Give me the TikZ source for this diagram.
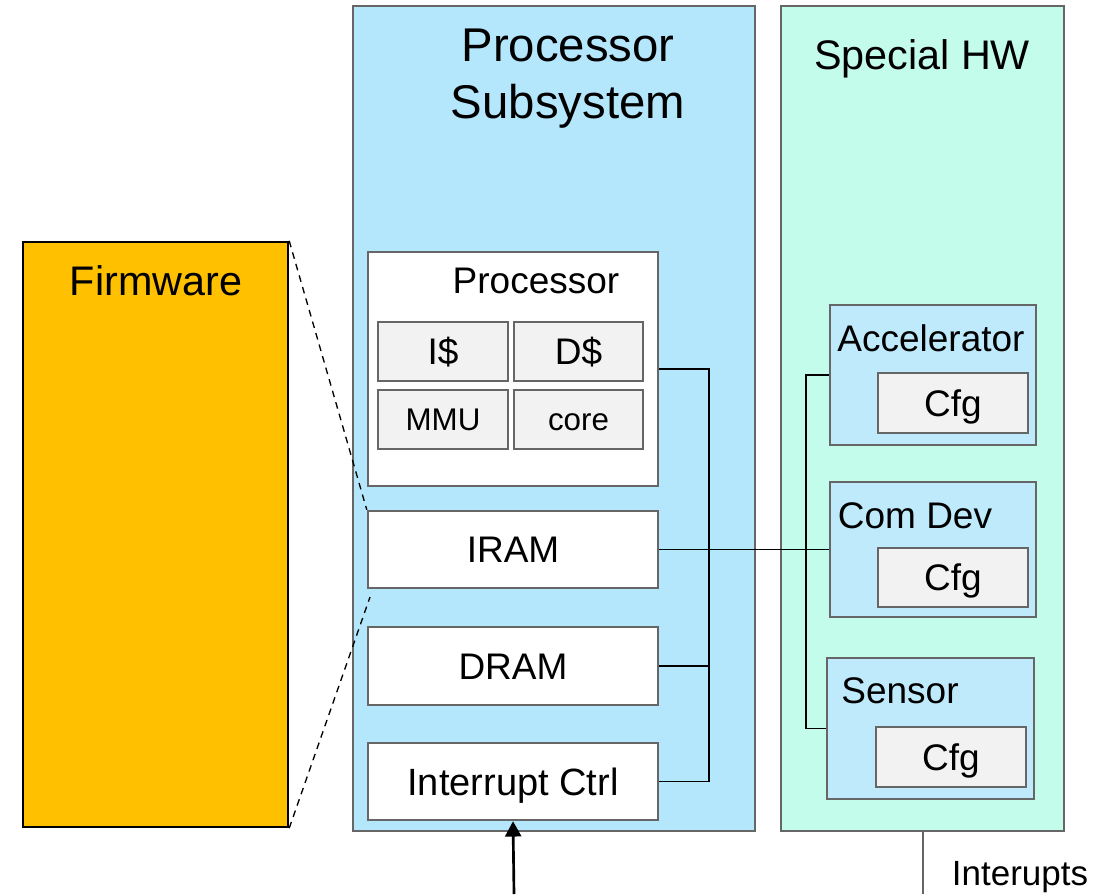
\documentclass[tikz,border=0pt]{standalone}
\usepackage{fontspec}
\setmainfont{Liberation Sans}
\usetikzlibrary{arrows.meta}
\definecolor{bordergray}{RGB}{102,102,102}
\definecolor{subblue}{RGB}{180,230,252}
\definecolor{hwmint}{RGB}{196,252,236}
\definecolor{devblue}{RGB}{190,234,252}
\definecolor{fwgold}{RGB}{255,192,0}
\definecolor{cellgray}{RGB}{242,242,242}
\tikzset{
  box/.style={draw=bordergray, line width=1.8pt, rectangle, inner sep=0pt},
  txt/.style={inner sep=0pt, anchor=center, text=black, text depth=0pt},
  big/.style={txt, font=\fontsize{35.5}{42}\selectfont, text height=25.6pt},
  mid/.style={txt, font=\fontsize{31}{37}\selectfont, text height=22.3pt},
  norm/.style={txt, font=\fontsize{27.75}{33}\selectfont, text height=20pt},
  small/.style={txt, font=\fontsize{23.5}{28}\selectfont, text height=16.9pt},
  bus/.style={draw=black, line width=1pt},
  fwline/.style={draw=black, line width=1pt, dashed, dash pattern=on 5pt off 4pt},
}
\begin{document}
\begin{tikzpicture}[x=0.75pt,y=-0.75pt]
\path[use as bounding box, fill=white] (0,0) rectangle (1107,894);

% outer containers
\node[box, fill=subblue, minimum width=301.5pt, minimum height=618.75pt] (procsub) at (554,418.5) {};
\node[box, fill=hwmint, minimum width=212.25pt, minimum height=618.75pt] (special) at (922.5,418.5) {};
\node[box, draw=black, fill=fwgold, minimum width=198.75pt, minimum height=438.75pt] (firmware) at (155.5,534.5) {};

\node[big] (ttl1) at (568,44) {Processor};
\node[big] (ttl2) at (568,101) {Subsystem};
\node[mid] (ttlhw) at (922,55) {Special HW};
\node[mid] (ttlfw) at (156,281) {Firmware};

% processor
\node[box, fill=white, minimum width=217.5pt, minimum height=175.5pt] (processor) at (513,369) {};
\node[norm] (proclbl) at (536,280) {Processor};
\node[box, fill=cellgray, minimum width=97.5pt, minimum height=44.25pt] (icache) at (443,351.5) {};
\node[box, fill=cellgray, minimum width=96.75pt, minimum height=44.25pt] (dcache) at (578.5,351.5) {};
\node[box, fill=cellgray, minimum width=97.5pt, minimum height=44.25pt] (mmu) at (443,419.5) {};
\node[box, fill=cellgray, minimum width=96.75pt, minimum height=44.25pt] (core) at (578.5,419.5) {};
\node[norm] at (icache) {I\$};
\node[norm] at (dcache) {D\$};
\node[small] at (mmu) {MMU};
\node[small] at (core) {core};

% memories
\node[box, fill=white, minimum width=217.5pt, minimum height=57.75pt] (iram) at (513,549.5) {};
\node[box, fill=white, minimum width=217.5pt, minimum height=58.5pt] (dram) at (513,666) {};
\node[box, fill=white, minimum width=217.5pt, minimum height=57.75pt] (intctrl) at (513,781.5) {};
\node[norm] at (iram) {IRAM};
\node[norm] at (dram) {DRAM};
\node[norm, font=\fontsize{28.5}{34}\selectfont, text height=20.5pt] at (intctrl) {Interrupt Ctrl};

% special HW devices
\node[box, fill=devblue, minimum width=154.5pt, minimum height=105pt] (accel) at (933,375) {};
\node[box, fill=cellgray, minimum width=112.5pt, minimum height=45pt] (cfga) at (953,403) {};
\node[norm] (accellbl) at (931,338) {Accelerator};
\node[norm] at (cfga) {Cfg};

\node[box, fill=devblue, minimum width=154.5pt, minimum height=101.25pt] (comdev) at (933,549.5) {};
\node[box, fill=cellgray, minimum width=112.5pt, minimum height=44.25pt] (cfgb) at (953,577.5) {};
\node[norm] (comdevlbl) at (915,515) {Com Dev};
\node[norm] at (cfgb) {Cfg};

\node[box, fill=devblue, minimum width=155.25pt, minimum height=105.75pt] (sensor) at (930.5,728.5) {};
\node[box, fill=cellgray, minimum width=112.5pt, minimum height=45pt] (cfgc) at (951,757) {};
\node[norm] (sensorlbl) at (900,690) {Sensor};
\node[norm] at (cfgc) {Cfg};

% processor-side bus
\coordinate (pbus) at (709,0);
\draw[bus] (processor.east) -- (pbus |- processor.east) -- (pbus |- intctrl.east) -- (intctrl.east);
\draw[bus] (dram.east) -- (pbus |- dram.east);
\draw[bus] (iram.east) -- (comdev.west);

% HW-side bus
\coordinate (hbus) at (806,0);
\draw[bus] (accel.west) -- (hbus |- accel.west) -- (hbus |- sensor.west) -- (sensor.west);

% firmware mapping
\coordinate (fwlow) at (370,597);
\draw[fwline] (firmware.north east) -- (iram.north west);
\draw[fwline] (firmware.south east) -- (fwlow);

% interrupts
\coordinate (irqin) at (514,894);
\draw[line width=2pt, -{Triangle[length=11.5pt, width=12pt]}] (irqin) -- (intctrl.south);
\coordinate (irqout) at (923,894);
\draw[draw=bordergray, line width=0.8pt] (irqout |- special.south) -- (irqout);
\node[txt, font=\fontsize{26.25}{31}\selectfont, text height=18.9pt] (irqlbl) at (1020,873) {Interupts};
\end{tikzpicture}
\end{document}
